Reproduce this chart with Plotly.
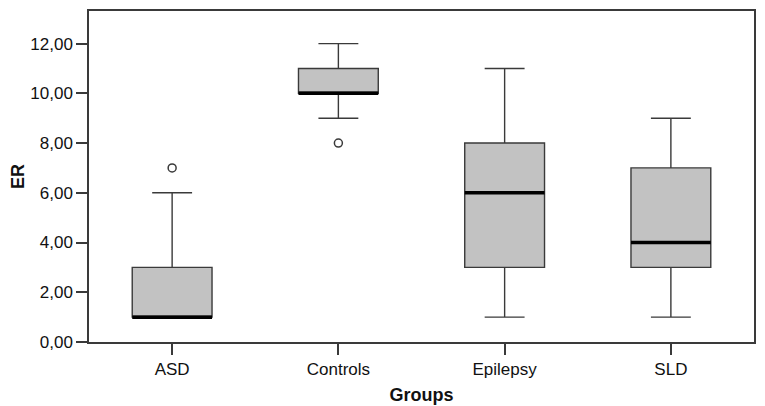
import plotly.graph_objects as go

# SPSS style boxplot of ER by group
groups = ["ASD", "Controls", "Epilepsy", "SLD"]
lower = [1, 9, 1, 1]
q1 = [1, 10, 3, 3]
median = [1, 10, 6, 4]
q3 = [3, 11, 8, 7]
upper = [6, 12, 11, 9]

outlier_groups = ["ASD", "Controls"]
outlier_values = [7, 8]

y_ticks = [0, 2, 4, 6, 8, 10, 12]

FONT = "Liberation Sans, Arial, sans-serif"
INK = "#3a3a3a"

fig = go.Figure()

# main boxes
fig.add_trace(go.Box(
    x=groups,
    q1=q1, median=median, q3=q3,
    lowerfence=lower, upperfence=upper,
    width=0.48,
    whiskerwidth=0.5,
    fillcolor="#c2c2c2",
    line=dict(color=INK, width=1.4),
    boxpoints=False,
    hoverinfo="skip",
    showlegend=False,
))

# thick median bars (zero-height boxes drawn on top)
fig.add_trace(go.Box(
    x=groups,
    q1=median, median=median, q3=median,
    lowerfence=median, upperfence=median,
    width=0.48,
    whiskerwidth=0,
    fillcolor="black",
    line=dict(color="black", width=3.5),
    boxpoints=False,
    hoverinfo="skip",
    showlegend=False,
))

# outliers
fig.add_trace(go.Scatter(
    x=outlier_groups,
    y=outlier_values,
    mode="markers",
    marker=dict(symbol="circle-open", size=8, color=INK, line=dict(width=1.5)),
    hoverinfo="skip",
    showlegend=False,
))

# page body has an 8px margin, so the figure is sized/offset to fit the window
fig.update_layout(
    width=757,
    height=398,
    margin=dict(l=81, r=11, t=3, b=64),
    paper_bgcolor="white",
    plot_bgcolor="white",
    separators=",.",
    boxmode="overlay",
    font=dict(family=FONT, size=17, color="#111111"),
    xaxis=dict(
        type="category",
        categoryorder="array",
        categoryarray=groups,
        range=[-0.5, 3.5],
        automargin=False,
        showline=True, mirror=True, linecolor=INK, linewidth=1.5,
        ticks="outside", ticklen=11, tickwidth=1.5, tickcolor=INK,
        showgrid=False, zeroline=False,
        title=dict(text="Groups", font=dict(size=18, weight="bold"), standoff=10),
    ),
    yaxis=dict(
        range=[0, 13.31],
        tickvals=y_ticks,
        tickformat=".2f",
        automargin=False,
        showline=True, mirror=True, linecolor=INK, linewidth=1.5,
        ticks="outside", ticklen=11, tickwidth=1.5, tickcolor=INK,
        showgrid=False, zeroline=False,
        title=dict(text="ER", font=dict(size=18, weight="bold"), standoff=8),
    ),
)

fig.write_html("out.html")
